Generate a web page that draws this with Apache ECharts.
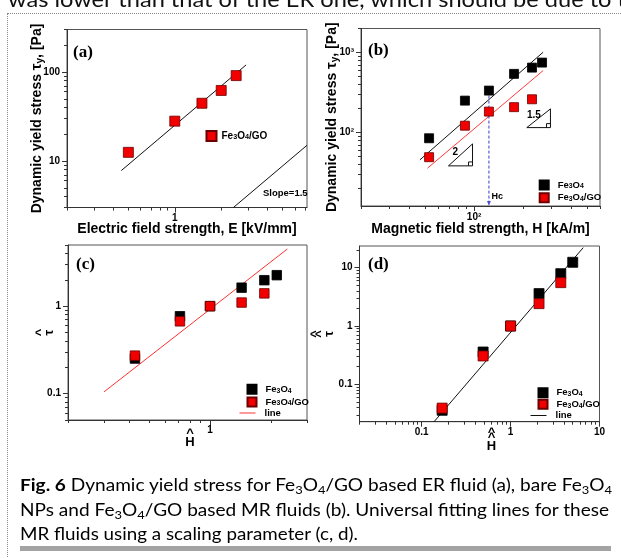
<!DOCTYPE html>
<html><head><meta charset="utf-8">
<script src="https://cdn.jsdelivr.net/npm/echarts@6/dist/echarts.min.js"></script>
<style>
html,body{margin:0;padding:0;background:#fff;}
#wrap{position:relative;width:621px;height:558px;overflow:hidden;background:#fff;}
#chart{position:absolute;left:0;top:0;width:621px;height:558px;}
.txt{position:absolute;white-space:nowrap;font-family:Lato,'Open Sans',sans-serif;color:#000;transform-origin:0 50%;}
.txt sub{font-size:0.68em;vertical-align:-0.22em;line-height:0;}
#topText{font-size:22px;line-height:22px;top:-12.5px;color:#111;}
.cap{font-size:17px;line-height:24px;}
#frameTop{position:absolute;left:7px;top:13px;width:620px;height:0;border-top:1px dotted #8a8a8a;}
#frameLeft{position:absolute;left:7px;top:13px;width:0;height:560px;border-left:1px dotted #8a8a8a;}
#bar{position:absolute;left:20px;top:546px;width:591px;height:5px;background:#a3a3a3;}
</style></head>
<body><div id="wrap"><div id="chart"></div>
<div id="topText" class="txt">was lower than that of the ER one, which should be due to t</div>
<div id="frameTop"></div><div id="frameLeft"></div>
<div id="cap1" class="txt cap" style="top:473px"><b>Fig. 6</b> Dynamic yield stress for Fe<sub>3</sub>O<sub>4</sub>/GO based ER fluid (a), bare Fe<sub>3</sub>O<sub>4</sub></div>
<div id="cap2" class="txt cap" style="top:498px">NPs and Fe<sub>3</sub>O<sub>4</sub>/GO based MR fluids (b). Universal fitting lines for these</div>
<div id="cap3" class="txt cap" style="top:522px">MR fluids using a scaling parameter (c, d).</div>
<div id="bar"></div>
</div>
<script>
// ---------- data ----------
// (a) ER fluid
const aField = [0.5, 1, 1.5, 2, 2.5];
const aStress = [12.5, 28, 44.5, 62, 91];
const aFit = [[0.45, 7.8], [2.9, 120]];
const aSlope = [[2.4, 3], [7.2, 15]];
// (b) MR fluids
const bField = [52.7, 87.8, 123.5, 176.6, 228, 263];
const bBare = [85, 251, 335, 542, 649, 750];
const bGO = [49.3, 122, 183, 208, 261];
const bBareFit = [[46.2, 45.6], [267, 1010]];
const bGOFit = [[51.5, 35.9], [267, 596]];
const bHc = [[123.5, 335], [123.5, 12.3]];
const bTri2 = [[69.4, 38.4], [97.8, 72.3], [97.8, 38.4], [69.4, 38.4]];
const bTri2Box = [[92.4, 38.4], [92.4, 43.0], [97.8, 43.0]];
const bTri15 = [[211.7, 115.5], [296.5, 197.9], [296.5, 115.5], [211.7, 115.5]];
const bTri15Box = [[280.3, 115.5], [280.3, 129.6], [296.5, 129.6]];
// (c) scaled
const cH = [0.427, 0.711, 1, 1.43, 1.85, 2.13];
const cBare = [0.252, 0.767, 1, 1.626, 1.98, 2.26];
const cGO = [0.272, 0.671, 1, 1.10, 1.40];
const cFit = [[0.301, 0.105], [2.40, 4.5]];
// (d) scaled
const dH = [0.170, 0.491, 1, 2.09, 3.67, 5.0];
const dBare = [0.0358, 0.358, 1, 3.6, 7.9, 12.4];
const dGO = [0.039, 0.306, 1, 2.42, 5.55];
const dFit = [[0.138, 0.0228], [6.56, 22.1]];
// tick labels
const aXTicks = [1], aXLabels = ['1'];
const aYTicks = [10, 100], aYLabels = ['10', '100'];
const bXTicks = [100], bXLabels = ['10²'];
const bYTicks = [100, 1000], bYLabels = ['10²', '10³'];
const cXTicks = [1], cXLabels = ['1'];
const cYTicks = [0.1, 1], cYLabels = ['0.1', '1'];
const dXTicks = [0.1, 1, 10], dXLabels = ['0.1', '1', '10'];
const dYTicks = [0.1, 1, 10], dYLabels = ['0.1', '1', '10'];

// ---------- helpers ----------
const F = "'Liberation Sans', Arial, sans-serif";
const FS = "'Liberation Serif', 'Times New Roman', serif";
const AX = '#333';
function minorTicks(min, max) {
  const out = [];
  for (let e = Math.floor(Math.log10(min)) - 1; e <= Math.ceil(Math.log10(max)); e++) {
    for (let k = 2; k <= 9; k++) {
      const v = +(k * Math.pow(10, e)).toPrecision(6);
      if (v >= min * 0.999 && v <= max * 1.001) out.push(v);
    }
  }
  return out;
}
function labelFmt(ticks, labels) {
  return function (v) {
    for (let i = 0; i < ticks.length; i++) {
      if (Math.abs(Math.log10(v) - Math.log10(ticks[i])) < 1e-4) return labels[i];
      if (Math.abs(v - Math.log10(ticks[i])) < 1e-4) return labels[i];
    }
    return '';
  };
}
function axisPair(dim, gi, min, max, ticks, labels, name, nameGap, nameStyle, margin) {
  const pos = dim === 'x' ? 'bottom' : 'left';
  return [
    {
      type: 'log', logBase: 10, gridIndex: gi, min, max, position: pos,
      axisLine: { show: true, lineStyle: { color: AX, width: 1 } },
      axisTick: { show: true, inside: false, length: 3, customValues: minorTicks(min, max), lineStyle: { color: AX, width: 1 } },
      axisLabel: { show: true, customValues: ticks, formatter: labelFmt(ticks, labels), margin: margin,
        color: '#000', fontFamily: F, fontWeight: 'bold', fontSize: 10 },
      splitLine: { show: false }, minorTick: { show: false },
      name: name, nameLocation: 'middle', nameGap: nameGap, nameRotate: dim === 'y' ? 90 : 0, nameMoveOverlap: false,
      nameTextStyle: Object.assign({ color: '#000', fontFamily: F, fontWeight: 'bold', fontSize: 14 }, nameStyle || {})
    },
    {
      type: 'log', logBase: 10, gridIndex: gi, min, max, position: pos,
      axisLine: { show: false },
      axisTick: { show: true, inside: false, length: 5, customValues: ticks, lineStyle: { color: AX, width: 1 } },
      axisLabel: { show: false }, splitLine: { show: false }
    }
  ];
}
function scatter(name, xs, ys, gi, color, size) {
  return {
    type: 'scatter', name, xAxisIndex: 2 * gi, yAxisIndex: 2 * gi, symbol: 'rect', symbolSize: size,
    data: ys.map((y, i) => [xs[i], y]), z: 4,
    itemStyle: { color: color, borderColor: color === '#000000' ? '#000' : '#6a0000', borderWidth: 0.8, opacity: 1 },
    emphasis: { disabled: true }
  };
}
function line(name, pts, gi, color, extra) {
  return Object.assign({
    type: 'line', name, xAxisIndex: 2 * gi, yAxisIndex: 2 * gi, data: pts, symbol: 'none',
    lineStyle: { color: color, width: 1 }, itemStyle: { color: color }, z: 3, silent: true,
    emphasis: { disabled: true }, animation: false
  }, extra || {});
}
const chem = n => n.trim().replace(/(\d)/g, '{s|$1}');
const sqPathRight = 'path://M0,0M7,0h9v9h-9z';
const linePath = 'path://M0,0M0,4h16v1h-16zM0,9';
function legendRow(name, icon, left, cy, iw, ih, fs, padLeft, extra) {
  return {
    left: left, top: cy - ih / 2, padding: 0, orient: 'vertical', itemWidth: iw, itemHeight: ih,
    selectedMode: false, formatter: chem,
    data: [Object.assign({ name: name, icon: icon }, extra || {})],
    textStyle: { fontSize: fs, fontWeight: 'bold', fontFamily: F, color: '#000', padding: [0, 0, 0, padLeft],
      rich: { s: { fontSize: fs * 0.72, fontWeight: 'bold', fontFamily: F, color: '#000', lineHeight: 6, verticalAlign: 'bottom' } } }
  };
}

const ytitleRich = {
  t: { fontSize: 15, fontWeight: 'bold', fontFamily: F, color: '#000', lineHeight: 16 },
  s: { fontSize: 10, fontWeight: 'bold', fontFamily: F, color: '#000', lineHeight: 9, verticalAlign: 'bottom' }
};
const hatRich = {
  h: { fontSize: 13, fontWeight: 'bold', fontFamily: F, color: '#000', lineHeight: 5 },
  m: { fontSize: 13, fontWeight: 'bold', fontFamily: F, color: '#000', lineHeight: 13 }
};

const RED = '#f20000', BLK = '#000000';

const option = {
  animation: false,
  backgroundColor: '#fff',
  grid: [
    { left: 67, top: 29.5, width: 240, height: 178 },
    { left: 361, top: 28.5, width: 239, height: 177.5 },
    { left: 68, top: 245, width: 239, height: 175 },
    { left: 359.5, top: 246, width: 240, height: 175.7 }
  ].map(g => Object.assign(g, { show: true, borderColor: '#555', borderWidth: 1, backgroundColor: 'transparent', containLabel: false, outerBoundsMode: 'none' })),
  xAxis: [].concat(
    axisPair('x', 0, 0.2, 7.2, aXTicks, aXLabels, 'Electric field strength, E [kV/mm]', 15, null, 6),
    axisPair('x', 1, 20, 600, bXTicks, bXLabels, 'Magnetic field strength, H [kA/m]', 16, null, 6),
    axisPair('x', 2, 0.2, 3, cXTicks, cXLabels, '{h|^}\n{m|H}', 11, { rich: hatRich, padding: [0, 0, 0, 5] }, 5),
    axisPair('x', 3, 0.02, 10, dXTicks, dXLabels, '{h|^}\n{h|^}\n{m|H}', 8, { rich: hatRich, padding: [0, 0, 0, 24] }, 6)
  ),
  yAxis: [].concat(
    axisPair('y', 0, 3, 300, aYTicks, aYLabels, 'Dynamic yield stress {t|τ}{s|y}, [Pa]', 22, { rich: ytitleRich }, 7),
    axisPair('y', 1, 12.1, 2000, bYTicks, bYLabels, 'Dynamic yield stress {t|τ}{s|y}, [Pa]', 21, { rich: ytitleRich }, 7),
    axisPair('y', 2, 0.05, 5, cYTicks, cYLabels, '{h|^}\n{m|τ}', 12, { rich: hatRich }, 7),
    axisPair('y', 3, 0.0228, 23.6, dYTicks, dYLabels, '{h|^}\n{h|^}\n{m|τ}', 24, { rich: hatRich }, 7)
  ),
  legend: [
    legendRow('Fe3O4/GO', 'rect', 205.5, 135, 10, 10, 10, 0),
    legendRow('Fe3O4', 'rect', 538.7, 184, 9, 9, 9.5, 4),
    legendRow('Fe3O4/GO', 'rect', 538.7, 196.7, 9, 9, 9.5, 4),
    legendRow('Fe3O4', sqPathRight, 239.5, 388.3, 16, 9, 9.5, 4),
    legendRow('Fe3O4/GO', sqPathRight, 239.5, 401, 16, 9, 9.5, 4),
    legendRow('line', linePath, 239.5, 412.5, 16, 9, 9.5, 4),
    legendRow('Fe3O4', sqPathRight, 530.5, 391.7, 16, 9, 9.5, 4),
    legendRow('Fe3O4/GO', sqPathRight, 530.5, 403.3, 16, 9, 9.5, 4),
    legendRow('line ', linePath, 530.5, 415, 16, 9, 9.5, 4)
  ],
  series: [
    // (a)
    line('fit a', aFit, 0, '#111'),
    line('slope', aSlope, 0, '#111'),
    scatter('Fe3O4/GO', aField, aStress, 0, RED, 10),
    // (b)
    line('fit bare', bBareFit, 1, '#111'),
    line('fit GO', bGOFit, 1, '#ff3b3b'),
    line('Hc', bHc, 1, '#3a3ad0', { lineStyle: { color: '#3a3ad0', width: 1, type: [3, 2] } }),
    line('tri2', bTri2, 1, '#111'),
    line('tri2box', bTri2Box, 1, '#111'),
    line('tri15', bTri15, 1, '#111'),
    line('tri15box', bTri15Box, 1, '#111'),
    { type: 'scatter', name: 'Hc arrow', xAxisIndex: 2, yAxisIndex: 2, data: [bHc[1]], symbol: 'triangle', symbolRotate: 180,
      symbolSize: [4, 5], symbolOffset: [0, -2], itemStyle: { color: '#3a3ad0' }, silent: true, z: 3 },
    scatter('Fe3O4', bField, bBare, 1, BLK, 9),
    scatter('Fe3O4/GO', bField.slice(0, bGO.length), bGO, 1, RED, 9),
    // (c)
    line('line', cFit, 2, '#ff3030'),
    scatter('Fe3O4', cH, cBare, 2, BLK, 9.5),
    scatter('Fe3O4/GO', cH.slice(0, cGO.length), cGO, 2, RED, 9.5),
    // (d)
    line('line ', dFit, 3, '#111'),
    scatter('Fe3O4', dH, dBare, 3, BLK, 10),
    scatter('Fe3O4/GO', dH.slice(0, dGO.length), dGO, 3, RED, 10)
  ],
  graphic: [
    { type: 'text', left: 73, top: 44, style: { text: '(a)', font: 'bold 17px ' + FS, fill: '#000' } },
    { type: 'text', left: 368, top: 42.5, style: { text: '(b)', font: 'bold 17px ' + FS, fill: '#000' } },
    { type: 'text', left: 76, top: 256, style: { text: '(c)', font: 'bold 17px ' + FS, fill: '#000' } },
    { type: 'text', left: 368, top: 256, style: { text: '(d)', font: 'bold 17px ' + FS, fill: '#000' } },
    { type: 'text', left: 263, top: 188, style: { text: 'Slope=1.5', font: 'bold 9.5px ' + F, fill: '#000' } },
    { type: 'text', left: 452.5, top: 147.5, style: { text: '2', font: 'bold 10px ' + F, fill: '#000' } },
    { type: 'text', left: 527, top: 110, style: { text: '1.5', font: 'bold 10px ' + F, fill: '#000' } },
    { type: 'text', left: 491.5, top: 192, style: { text: 'Hc', font: 'bold 9px ' + F, fill: '#000' } }
  ]
};

const chart = echarts.init(document.getElementById('chart'), null, { renderer: 'canvas' });
chart.setOption(option);

function fit(id, left, width) {
  const el = document.getElementById(id);
  el.style.left = left + 'px';
  el.style.transform = 'none';
  const w = el.getBoundingClientRect().width;
  el.style.transform = 'scaleX(' + (width / w) + ')';
}
function fitAll() {
  fit('topText', 8, 618);
  fit('cap1', 20, 592);
  fit('cap2', 20, 589);
  fit('cap3', 20, 338);
}
fitAll();
if (document.fonts && document.fonts.ready) document.fonts.ready.then(fitAll);
</script>
</body></html>
